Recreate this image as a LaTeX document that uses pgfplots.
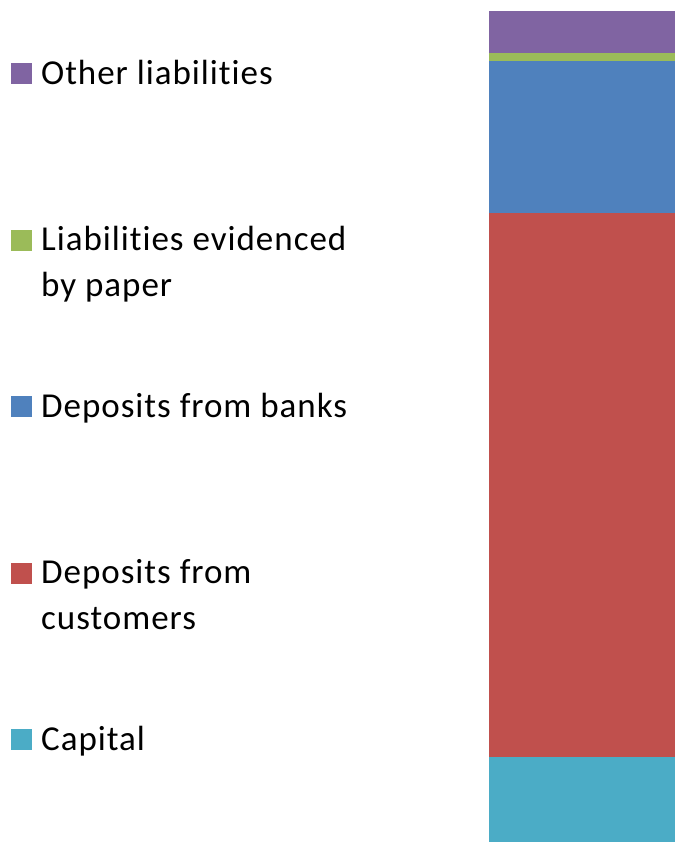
\documentclass[border=0pt]{standalone}
\usepackage{fontspec}
\setmainfont{Carlito}[Ligatures=NoCommon, LetterSpace=2.8]
\usepackage{pgfplots}
\pgfplotsset{compat=1.18}
\definecolor{cCap}{HTML}{4BACC6}
\definecolor{cCust}{HTML}{C0504D}
\definecolor{cBank}{HTML}{4F81BD}
\definecolor{cPaper}{HTML}{9BBB59}
\definecolor{cOther}{HTML}{8064A2}
\begin{document}
\begin{tikzpicture}
\path[use as bounding box] (0pt,0pt) rectangle (675pt,842pt);
\begin{axis}[
  at={(489pt,0pt)}, anchor=south west,
  width=186pt, height=831pt, scale only axis,
  xmin=-0.5, xmax=0.5, ymin=0, ymax=100,
  hide axis, clip=false,
  ybar stacked, bar width=186pt,
  reverse legend,
  legend image code/.code={\fill[#1] (0pt,0pt) rectangle (21pt,21pt);},
  legend style={at={(-2.570,0.941)}, anchor=north west, draw=none, fill=none,
    inner sep=0pt, row sep=0pt, column sep=0pt,
    font=\fontsize{35}{46}\selectfont,
    nodes={inner sep=0pt, inner xsep=0pt, text height=24pt, text depth=142.5pt, anchor=base west}},
  legend cell align=left,
]
\addplot[fill=cCap, draw=none] coordinates {(0,10.23)};
\addplot[fill=cCust, draw=none] coordinates {(0,65.46)};
\addplot[fill=cBank, draw=none] coordinates {(0,18.33)};
\addplot[fill=cPaper, draw=none] coordinates {(0,0.89)};
\addplot[fill=cOther, draw=none] coordinates {(0,5.09)};
\legend{\hspace{9pt}Capital,
  \hspace{9pt}\begin{tabular}[t]{@{}l@{}}Deposits from\\customers\end{tabular},
  \hspace{9pt}Deposits from banks,
  \hspace{9pt}\begin{tabular}[t]{@{}l@{}}Liabilities evidenced\\by paper\end{tabular},
  \hspace{9pt}Other liabilities}
\end{axis}
\end{tikzpicture}
\end{document}
